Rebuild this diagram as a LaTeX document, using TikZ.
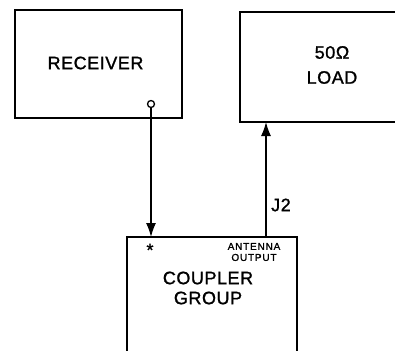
\documentclass[tikz,border=0pt]{standalone}
\usepackage{fontspec}
\setmainfont{Liberation Sans}[FakeBold=1.2,LetterSpace=3]
\newfontfamily\spaced{Liberation Sans}[LetterSpace=8,FakeBold=1.2]
\usetikzlibrary{arrows.meta}
\begin{document}
\begin{tikzpicture}[x=1pt,y=1pt,
  box/.style={draw,line width=1.5pt,rectangle,inner sep=0pt},
  big/.style={font=\fontsize{18}{20}\selectfont,align=center,inner sep=0pt},
  small/.style={font=\spaced\fontsize{10}{11}\selectfont,align=center,inner sep=0pt},
  conn/.style={line width=1.3pt,-{Latex[length=14pt,width=10pt]}}]
\clip (0,0) rectangle (395,-350);
\fill[white] (0,0) rectangle (395,-350);
% boxes
\node[box,minimum width=167pt,minimum height=108pt] (rcv) at (98.5,-64) {};
\node[big] (rcvt) at (95.5,-63) {RECEIVER};
\node[box,minimum width=180pt,minimum height=110pt] (load) at (330,-67) {};
\node[big,font=\fontsize{18}{25}\selectfont] (loadt) at (332,-65) {50Ω\\LOAD};
\node[box,minimum width=170pt,minimum height=140pt] (cpl) at (212,-307) {};
\node[big] (cplt) at (208,-288) {COUPLER\\GROUP};
\node[small] (ant) at (254,-252) {ANTENNA\\OUTPUT};
\node[inner sep=0pt] (star) at (150,-250) {\fontsize{18}{18}\selectfont *};
% connectors
\node[draw,circle,line width=1.3pt,inner sep=0pt,minimum size=7pt,fill=white] (port) at (151,-104) {};
\coordinate (cin) at (150,-237);
\coordinate (jbot) at (266,-237);
\coordinate (ltop) at (266,-122);
\draw[conn] (port) -- (port |- cin);
\draw[conn] (jbot) -- (ltop);
\node[big,anchor=west] (j2) at (271,-205) {J2};
\end{tikzpicture}
\end{document}
